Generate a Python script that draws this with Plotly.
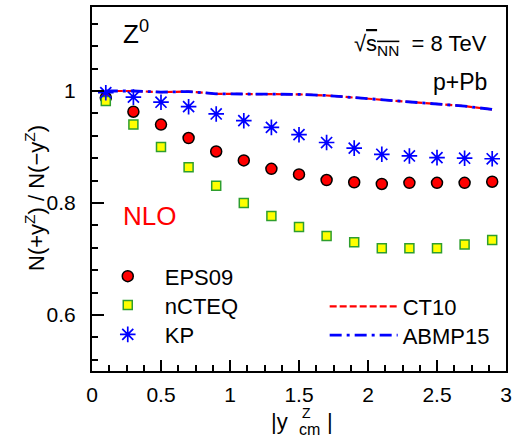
import plotly.graph_objects as go

# ---- data ----
y_abs = [0.1, 0.3, 0.5, 0.7, 0.9, 1.1, 1.3, 1.5, 1.7, 1.9, 2.1, 2.3, 2.5, 2.7, 2.9]
eps09 = [0.988, 0.963, 0.940, 0.916, 0.892, 0.876, 0.861, 0.851, 0.841, 0.837, 0.834, 0.836, 0.836, 0.836, 0.838]
ncteq = [0.982, 0.940, 0.900, 0.864, 0.831, 0.800, 0.777, 0.757, 0.741, 0.730, 0.719, 0.719, 0.719, 0.726, 0.734]
kp = [0.997, 0.989, 0.980, 0.972, 0.959, 0.947, 0.935, 0.922, 0.908, 0.898, 0.887, 0.884, 0.881, 0.880, 0.879]
ct10 = [1.000, 1.000, 0.998, 0.999, 0.995, 0.995, 0.995, 0.994, 0.992, 0.988, 0.985, 0.981, 0.976, 0.973, 0.967]
abmp15 = [1.000, 1.000, 0.998, 0.999, 0.995, 0.995, 0.995, 0.994, 0.992, 0.988, 0.985, 0.981, 0.976, 0.973, 0.967]

x_tickvals = [0, 0.5, 1, 1.5, 2, 2.5, 3]
x_ticktext = ["0", "0.5", "1", "1.5", "2", "2.5", "3"]
y_tickvals = [0.6, 0.8, 1.0]
y_ticktext = ["0.6", "0.8", "1"]

FONT = "Liberation Sans, Arial, sans-serif"

fig = go.Figure()
fig.add_trace(go.Scatter(x=y_abs, y=ct10, mode="lines", name="CT10",
                         line=dict(color="#ff0000", width=2.2, dash="7px,3px"), legend="legend4"))
fig.add_trace(go.Scatter(x=y_abs, y=abmp15, mode="lines", name="ABMP15",
                         line=dict(color="#0000ff", width=2.8, dash="12px,5px,3px,5px"), legend="legend5"))
fig.add_trace(go.Scatter(x=y_abs, y=eps09, mode="markers", name="EPS09",
                         marker=dict(symbol="circle", size=11, color="#ff0000",
                                     line=dict(color="#000000", width=1.5)), legend="legend"))
fig.add_trace(go.Scatter(x=y_abs, y=ncteq, mode="markers", name="nCTEQ",
                         marker=dict(symbol="square", size=9, color="#ffff00",
                                     line=dict(color="#2e9e2e", width=1.5)), legend="legend2"))
fig.add_trace(go.Scatter(x=y_abs, y=kp, mode="markers", name="KP",
                         marker=dict(symbol="asterisk-open", size=13, color="#0000ff",
                                     line=dict(color="#0000ff", width=1.7)), legend="legend3"))

axis_common = dict(showgrid=False, zeroline=False, showline=True, linecolor="black", linewidth=2,
                   mirror=True, ticks="inside", tickcolor="black", tickwidth=1.5,
                   tickfont=dict(family=FONT, size=21, color="black"))

fig.update_xaxes(range=[0, 3], tickvals=x_tickvals, ticktext=x_ticktext, ticklen=11,
                 minor=dict(dtick=0.125, tick0=0, ticks="inside", ticklen=6, tickcolor="black", tickwidth=1.5),
                 ticklabelstandoff=4, **axis_common)
fig.update_yaxes(range=[0.5, 1.15], tickvals=y_tickvals, ticktext=y_ticktext, ticklen=12,
                 minor=dict(dtick=0.04, tick0=0, ticks="inside", ticklen=6, tickcolor="black", tickwidth=1.5),
                 ticklabelstandoff=10, **axis_common)


def ann(text, x, y, size, color="black", xanchor="center", angle=0):
    return dict(text=text, x=x, y=y, xref="paper", yref="paper", xanchor=xanchor, yanchor="middle",
                textangle=angle, showarrow=False, font=dict(family=FONT, size=size, color=color))


annotations = [
    ann("Z<sup>0</sup>", 0.071, 0.93, 26, xanchor="left"),
    ann("√<span style='text-decoration:overline'>s<sub>NN</sub></span>&nbsp;&nbsp;= 8 TeV", 0.958, 0.895, 22,
        xanchor="right"),
    ann("p+Pb", 0.958, 0.795, 23, xanchor="right"),
    ann("NLO", 0.07, 0.425, 26, color="#ff0000", xanchor="left"),
    ann("N(+y<sup>Z</sup>) / N(−y<sup>Z</sup>)", -0.138, 0.475, 22, angle=-90),
    ann("|y", 0.454, -0.138, 22),
    ann("Z", 0.519, -0.115, 14),
    ann("cm", 0.525, -0.162, 16),
    ann("|", 0.574, -0.138, 22),
]


def leg(x, y, width):
    return dict(x=x, y=y, xanchor="left", yanchor="middle", bgcolor="rgba(0,0,0,0)",
                borderwidth=0, itemwidth=width, font=dict(family=FONT, size=22, color="black"))


fig.update_layout(
    width=517, height=443,
    margin=dict(l=92, r=7, t=5, b=72),
    paper_bgcolor="white", plot_bgcolor="white",
    font=dict(family=FONT, color="black"),
    annotations=annotations,
    showlegend=True,
    legend=leg(-0.003, 0.260, 64),
    legend2=leg(-0.003, 0.181, 64),
    legend3=leg(-0.003, 0.100, 64),
    legend4=leg(0.562, 0.177, 68),
    legend5=leg(0.562, 0.098, 68),
)

fig.write_html("out.html", config={"displayModeBar": False},
               post_script="document.body.style.margin='0';document.body.style.overflow='hidden';")
